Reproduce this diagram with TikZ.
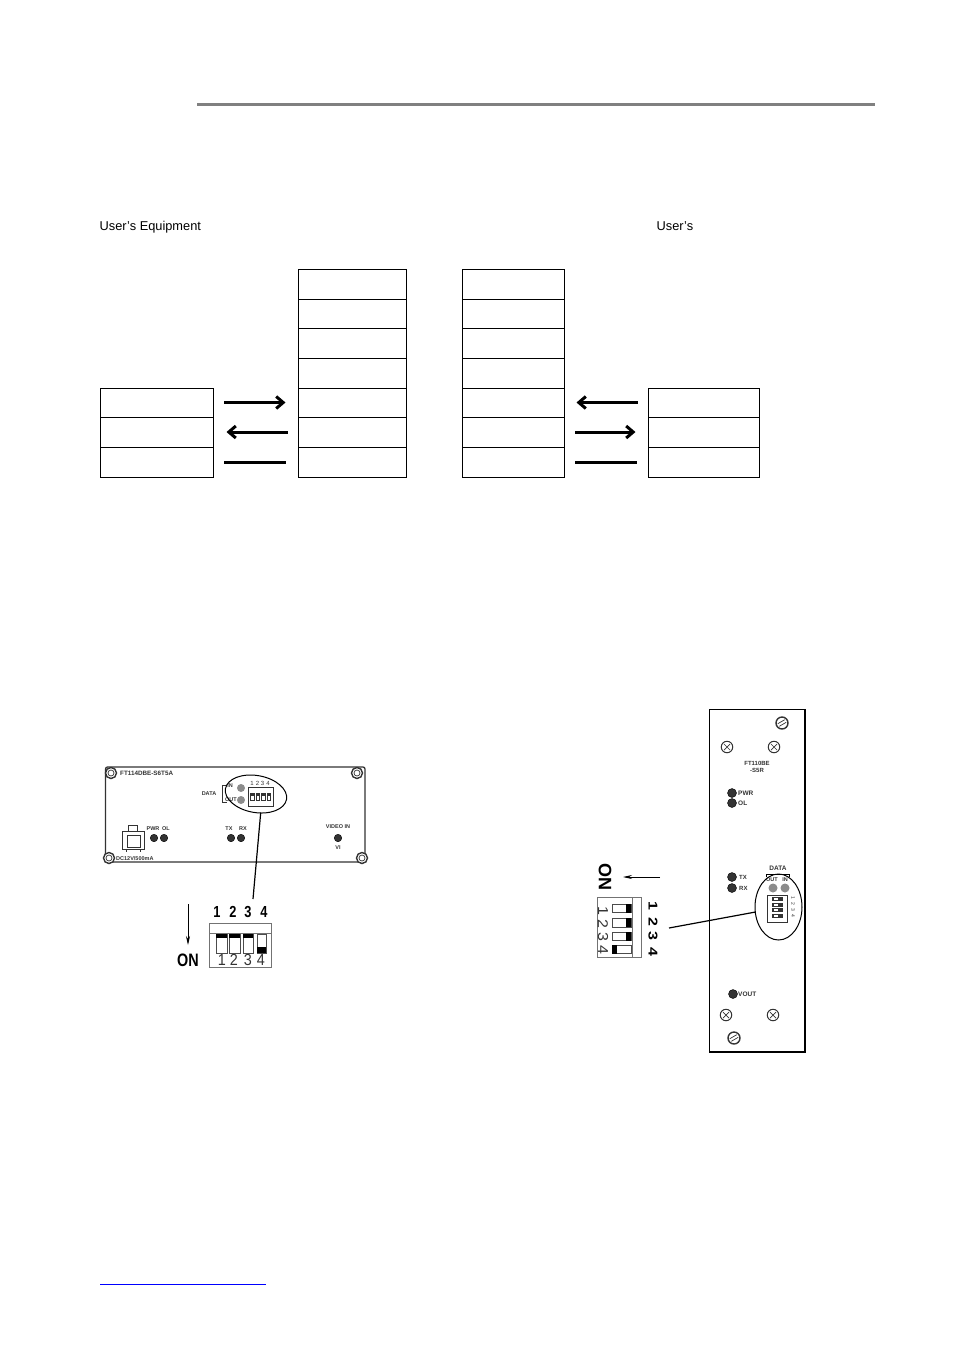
\documentclass[tikz,border=0pt]{standalone}
\usepackage{fontspec}
\setmainfont{Liberation Sans}
\usetikzlibrary{arrows.meta,shapes.geometric}

\definecolor{ledgray}{gray}{0.55}
\definecolor{leddark}{gray}{0.2}
\definecolor{panelink}{gray}{0.2}

\tikzset{
  cellbox/.style={draw,line width=0.9pt,inner sep=0,outer sep=0,anchor=north west},
  sigline/.style={line width=3pt},
  sigarrow/.style={sigline,-{Straight Barb[length=7pt,width=12pt,line width=3pt]}},
  panel/.style={draw=panelink,line width=1.3pt},
  led/.style={circle,fill=leddark,draw=black,line width=0.4pt,inner sep=0,minimum size=7.5pt},
  grayled/.style={circle,fill=ledgray,inner sep=0,minimum size=8pt},
  bolt/.style={circle,draw=panelink,line width=1.4pt,inner sep=0,minimum size=11pt},
  tiny/.style={font=\fontsize{5.5}{6}\selectfont\bfseries,text=panelink,inner sep=0},
  digit/.style={font=\fontsize{16}{16}\selectfont\bfseries,inner sep=0,xscale=0.8},
  lightdigit/.style={font=\fontsize{16}{16}\selectfont,inner sep=0,text=black!80,xscale=0.9}
}

\def\boltmark#1{\node[circle,draw=panelink,line width=0.7pt,inner sep=0,minimum size=6pt] at (#1.center) {}}
\def\slotscrew#1#2{\draw[panelink,line width=0.7pt,rotate around={#2:(#1.center)}] ([xshift=-4pt,yshift=1.5pt]#1.center) -- ([xshift=4pt,yshift=1.5pt]#1.center) ([xshift=-4pt,yshift=-1.5pt]#1.center) -- ([xshift=4pt,yshift=-1.5pt]#1.center)}
\def\crossscrew#1{\draw[panelink,line width=0.7pt] ([shift={(-3pt,-3pt)}]#1.center) -- ([shift={(3pt,3pt)}]#1.center) ([shift={(-3pt,3pt)}]#1.center) -- ([shift={(3pt,-3pt)}]#1.center)}

\begin{document}
\begin{tikzpicture}[x=1pt,y=-1pt]
  \useasboundingbox (0,0) rectangle (954,1350);

  % header rule and link
  \draw[color={rgb,255:red,128;green,128;blue,128},line width=3pt] (197,104.3) -- (875,104.3);
  \draw[blue,line width=1pt] (100,1284.3) -- (266,1284.3);

  \node[anchor=base west,inner sep=0,font=\fontsize{12.8}{14}\selectfont] (userA) at (99.5,230.5) {User’s Equipment};
  \node[anchor=base west,inner sep=0,font=\fontsize{12.8}{14}\selectfont] (userB) at (656.5,230.5) {User’s};

  % wiring tables
  \foreach \n/\y/\h in {1/269/30,2/299/29,3/328/30,4/358/30,5/388/29,6/417/30,7/447/30}{
    \node[cellbox,minimum width=108pt,minimum height=\h pt] (ma\n) at (298.5,\y) {};
    \node[cellbox,minimum width=102pt,minimum height=\h pt] (mb\n) at (462.5,\y) {};
  }
  \foreach \n/\y/\h in {5/388/29,6/417/30,7/447/30}{
    \node[cellbox,minimum width=113pt,minimum height=\h pt] (la\n) at (100.5,\y) {};
    \node[cellbox,minimum width=111pt,minimum height=\h pt] (ra\n) at (648.5,\y) {};
  }

  \draw[sigarrow,shorten <=10.5pt,shorten >=13pt] (la5.east) -- (ma5.west);
  \draw[sigarrow,shorten <=11pt,shorten >=13pt] (ma6.west) -- (la6.east);
  \draw[sigline,shorten <=10.5pt,shorten >=13pt] (la7.east) -- (ma7.west);
  \draw[sigarrow,shorten <=11pt,shorten >=12pt] (ra5.west) -- (mb5.east);
  \draw[sigarrow,shorten <=10.5pt,shorten >=13pt] (mb6.east) -- (ra6.west);
  \draw[sigline,shorten <=10.5pt,shorten >=12pt] (mb7.east) -- (ra7.west);

  % left unit
  \begin{scope}
    \draw[panel,rounded corners=2pt] (105.5,767) rectangle (365,862);
    \foreach \nm/\x/\y in {bolta/111/773,boltb/357/773,boltc/109/858,boltd/362/858}{
      \node[bolt,fill=white] (\nm) at (\x,\y) {};
      \boltmark{\nm};
    }
    \node[tiny,anchor=west,font=\fontsize{6.3}{7}\selectfont\bfseries] (modela) at (120,773) {FT114DBE-S6T5A};
    \node[tiny,anchor=west] (powera) at (116,858.5) {DC12V/500mA};
    % power connector
    \draw[panelink,line width=1pt] (122,831) rectangle (144.5,849) (128,825) rectangle (137,831);
    \draw[panelink,line width=0.7pt] (127,835) rectangle (140,847) (126,849) -- (126,852) (140,849) -- (140,852);
    \node[tiny] (pwra) at (153,829) {PWR};
    \node[tiny] (ola) at (166,829) {OL};
    \node[led] (ledpa) at (154,838) {};
    \node[led] (ledoa) at (164,838) {};
    \node[tiny] (txa) at (229,829) {TX};
    \node[tiny] (rxa) at (243,829) {RX};
    \node[led] (ledta) at (231,838) {};
    \node[led] (ledra) at (241,838) {};
    \node[tiny] (vina) at (338,827) {VIDEO IN};
    \node[led] (ledva) at (338,838) {};
    \node[tiny] (via) at (338,848) {VI};
    \node[tiny] (dataa) at (209,794) {DATA};
    \draw[panelink,line width=0.7pt] (227,785) -- (222.5,785) -- (222.5,802) -- (227,802);
    \node[tiny] (ina) at (230,786) {IN};
    \node[tiny] (outa) at (231,800) {OUT};
    \node[grayled] (ledia) at (241,788) {};
    \node[grayled] (ledua) at (241,800) {};
    \foreach \i/\x in {1/252,2/257.5,3/262.5,4/268}{
      \node[tiny,font=\fontsize{6}{6}\selectfont] (tda\i) at (\x,783) {\i};
    }
    \draw[panelink,line width=0.8pt] (248,787) rectangle (273,806);
    \foreach \x in {250,255.5,261,266.5}{
      \fill[panelink] (\x,793) rectangle ++(4.5,8);
      \fill[white] (\x+1,795.5) rectangle ++(2.5,4.5);
    }
    \node[ellipse,draw=black,line width=1pt,inner sep=0,minimum width=62pt,minimum height=37pt,rotate=-10] (zooma) at (256,794) {};
    \coordinate (taila) at (253,899);
    \draw[line width=1.2pt] (zooma.south) ++(8,0) -- (taila);
    % big switch
    \draw[color=black!55,line width=1pt] (209,923) rectangle (271,967);
    \draw[color=black!55,line width=0.8pt] (209,933) -- (271,933);
    \foreach \i/\x/\xb in {1/217/222,2/233/234,3/248/248,4/264/261}{
      \node[digit] (bda\i) at (\x,912) {\i};
      \node[lightdigit] (bla\i) at (\xb,960) {\i};
    }
    \foreach \x/\w in {216/11,229/11,243/10}{
      \draw[black!70,line width=0.8pt] (\x,934) rectangle ++(\w,19);
      \fill (\x,934) rectangle ++(\w,4);
    }
    \draw[black!70,line width=0.8pt] (257,934) rectangle ++(9,19);
    \fill (257,947) rectangle ++(9,5.5);
    \node[font=\fontsize{18}{18}\selectfont\bfseries,inner sep=0,xscale=0.8] (ona) at (188,960) {ON};
    \coordinate (ontopa) at (188,904);
    \coordinate (onenda) at (188,945);
    \draw[line width=0.8pt,-{Stealth[length=9pt,width=4pt]}] (ontopa) -- (onenda);
  \end{scope}

  % right unit
  \begin{scope}
    \draw[panel,draw=black] (709.5,709.5) rectangle (805,1052);
    \foreach \nm/\x/\y/\a in {slota/782/723/30,slotb/734/1038/30}{
      \node[bolt,fill=white,minimum size=12pt] (\nm) at (\x,\y) {};
      \slotscrew{\nm}{\a};
    }
    \foreach \nm/\x/\y in {crossa/727/747,crossb/774/747,crossc/726/1015,crossd/773/1015}{
      \node[circle,draw=panelink,line width=1pt,inner sep=0,minimum size=11.5pt] (\nm) at (\x,\y) {};
      \crossscrew{\nm};
    }
    \node[tiny,align=center,font=\fontsize{6}{7}\selectfont\bfseries] (modelb) at (757,767) {FT110BE\\-S5R};
    \node[led,minimum size=9pt] (ledpb) at (732,793) {};
    \node[led,minimum size=9pt] (ledob) at (732,803) {};
    \node[tiny,anchor=west,font=\fontsize{6.5}{7}\selectfont\bfseries] (pwrb) at (738,793) {PWR};
    \node[tiny,anchor=west,font=\fontsize{6.5}{7}\selectfont\bfseries] (olb) at (738,803.5) {OL};
    \node[led,minimum size=9pt] (ledtb) at (732,877) {};
    \node[led,minimum size=9pt] (ledrb) at (732,888) {};
    \node[tiny,anchor=west,font=\fontsize{6}{7}\selectfont\bfseries] (txb) at (739,877) {TX};
    \node[tiny,anchor=west,font=\fontsize{6}{7}\selectfont\bfseries] (rxb) at (739,888) {RX};
    \node[led,minimum size=9pt] (ledvb) at (733,994) {};
    \node[tiny,anchor=west,font=\fontsize{6.5}{7}\selectfont\bfseries] (voutb) at (738,994) {VOUT};
    \node[tiny,font=\fontsize{6.5}{7}\selectfont\bfseries] (datab) at (778,868) {DATA};
    \draw[line width=0.8pt] (766,877) -- (766,874.5) -- (789,874.5) -- (789,877);
    \node[tiny] (outb) at (772,880) {OUT};
    \node[tiny] (inb) at (785,880) {IN};
    \node[grayled,minimum size=9pt] (leduob) at (773,888) {};
    \node[grayled,minimum size=9pt] (ledinb) at (785,888) {};
    \draw[panelink,line width=0.7pt] (767,895) rectangle (787,922);
    \foreach \y in {897,902.5,908,913.5}{
      \fill[panelink] (772,\y) rectangle ++(11,4.2);
      \fill[white] (774,\y+1) rectangle ++(4,2.2);
    }
    \foreach \i/\y in {1/898,2/904,3/910,4/916}{
      \node[tiny,rotate=-90,font=\fontsize{5}{5}\selectfont] (tdb\i) at (793,\y) {\i};
    }
    \node[ellipse,draw=black,line width=1pt,inner sep=0,minimum width=47pt,minimum height=66pt] (zoomb) at (778.5,907) {};
    \coordinate (tailb) at (669,928);
    \draw[line width=1.2pt] (zoomb.west) ++(1,5) -- (tailb);
    % big switch
    \draw[color=black!55,line width=1pt] (597,897) rectangle (641,957);
    \draw[color=black!55,line width=0.8pt] (632,897) -- (632,957);
    \foreach \i/\y/\yb in {1/906/911,2/922/924,3/936/937,4/952/950}{
      \node[digit,rotate=-90,xscale=1] (bdb\i) at (653,\y) {\i};
      \node[lightdigit,rotate=-90,xscale=1] (blb\i) at (603,\yb) {\i};
    }
    \foreach \y/\h in {904/8.5,918/9,932/8.5}{
      \draw[black!70,line width=0.8pt] (612,\y) rectangle ++(19,\h);
      \fill (626,\y) rectangle ++(5,\h);
    }
    \draw[black!70,line width=0.8pt] (612,945) rectangle ++(19,8.5);
    \fill (612,945) rectangle ++(5,8.5);
    \node[font=\fontsize{18}{18}\selectfont\bfseries,inner sep=0,rotate=-90] (onb) at (605,877) {ON};
    \coordinate (ontopb) at (660,877);
    \coordinate (onendb) at (623,877);
    \draw[line width=0.8pt,-{Stealth[length=9pt,width=4pt]}] (ontopb) -- (onendb);
  \end{scope}
\end{tikzpicture}
\end{document}
